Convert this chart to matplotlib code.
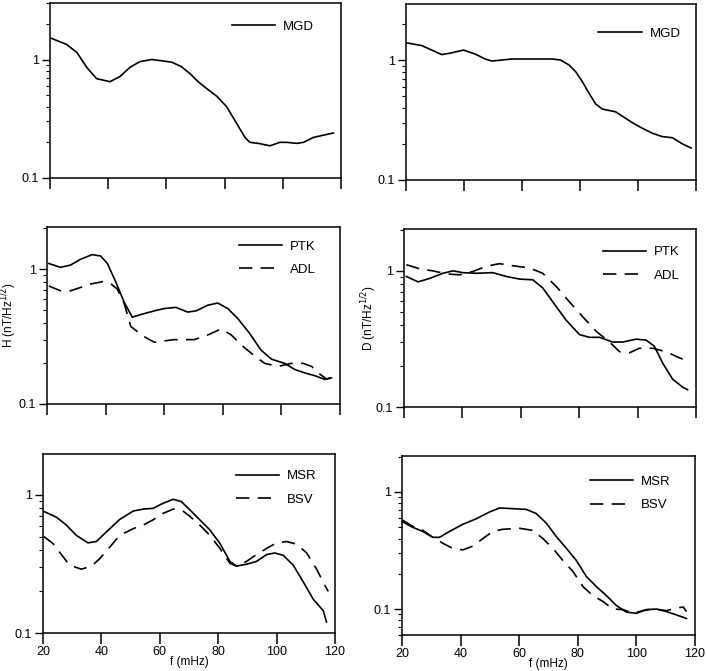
import numpy as np
import matplotlib.pyplot as plt
from matplotlib.ticker import FixedLocator, LogLocator, NullFormatter

plt.rcParams['font.family'] = ['Liberation Sans', 'DejaVu Sans']

# ---- data (f in mHz, amplitude in nT/Hz^1/2) ----
mgd_h_f = [20.2, 25.7, 29.2, 32.6, 36.0, 40.6, 44.1, 47.5, 50.9, 54.9, 57.8, 61.8, 65.2, 68.1,
           70.9, 73.8, 77.3, 80.7, 84.1, 87.0, 88.7, 91.6, 95.6, 99.0, 101.3, 104.8, 107.1,
           110.5, 114.0, 117.4]
mgd_h = [1.52, 1.34, 1.15, 0.86, 0.69, 0.65, 0.72, 0.86, 0.96, 1.0, 0.98, 0.95, 0.87, 0.76,
         0.65, 0.57, 0.49, 0.40, 0.29, 0.22, 0.20, 0.196, 0.187, 0.20, 0.20, 0.196, 0.20,
         0.22, 0.23, 0.24]

mgd_d_f = [20.2, 25.4, 28.9, 32.3, 35.2, 39.8, 43.9, 47.3, 49.6, 53.1, 56.6, 63.5, 70.4, 73.3,
           76.2, 78.5, 80.8, 83.1, 85.4, 87.7, 92.3, 94.6, 98.1, 101.5, 105.0, 108.4, 111.9,
           115.3, 118.3]
mgd_d = [1.39, 1.32, 1.21, 1.11, 1.14, 1.21, 1.12, 1.02, 0.98, 1.0, 1.02, 1.02, 1.02, 1.0,
         0.91, 0.80, 0.66, 0.53, 0.43, 0.39, 0.37, 0.34, 0.30, 0.27, 0.245, 0.23, 0.225,
         0.20, 0.185]

ptk_h_f = [20.6, 24.6, 28.0, 31.4, 35.4, 38.3, 40.6, 43.4, 46.3, 49.1, 52.0, 56.6, 60.0, 64.0,
           68.0, 70.9, 74.9, 78.3, 81.7, 85.1, 89.1, 93.1, 96.6, 101.1, 104.6, 108.0, 111.4,
           114.9, 117.1]
ptk_h = [1.10, 1.03, 1.07, 1.18, 1.28, 1.25, 1.10, 0.81, 0.57, 0.44, 0.46, 0.49, 0.51, 0.52,
         0.48, 0.49, 0.54, 0.56, 0.51, 0.43, 0.335, 0.25, 0.215, 0.20, 0.18, 0.17, 0.162,
         0.152, 0.156]
adl_h_f = [20.6, 24.6, 28.0, 31.4, 34.9, 39.4, 41.7, 44.0, 46.3, 48.6, 53.1, 56.6, 63.4, 70.3,
           74.9, 79.4, 82.9, 86.3, 90.3, 94.3, 98.9, 103.4, 107.4, 110.3, 112.6, 115.4, 117.1]
adl_h = [0.75, 0.69, 0.69, 0.73, 0.775, 0.81, 0.78, 0.71, 0.56, 0.375, 0.316, 0.287, 0.30, 0.30,
         0.325, 0.36, 0.325, 0.274, 0.232, 0.20, 0.19, 0.20, 0.20, 0.19, 0.17, 0.153, 0.158]

ptk_d_f = [20.8, 24.8, 28.8, 33.3, 36.8, 40.2, 44.7, 50.4, 55.0, 59.6, 64.1, 67.5, 71.0, 75.5,
           80.1, 83.5, 86.9, 91.5, 94.9, 99.5, 102.9, 105.7, 108.6, 112.0, 115.4, 117.1]
ptk_d = [0.91, 0.83, 0.88, 0.96, 1.0, 0.97, 0.96, 0.97, 0.91, 0.87, 0.86, 0.75, 0.59, 0.435,
         0.34, 0.325, 0.325, 0.30, 0.30, 0.315, 0.31, 0.28, 0.21, 0.16, 0.14, 0.134]
adl_d_f = [20.8, 25.4, 29.9, 34.5, 39.0, 43.6, 48.2, 52.7, 57.3, 63.0, 67.5, 72.1, 76.7, 81.2,
           85.8, 90.4, 93.8, 97.2, 100.6, 105.2, 109.7, 114.3, 117.7]
adl_d = [1.11, 1.035, 1.0, 0.95, 0.935, 0.99, 1.08, 1.13, 1.09, 1.05, 0.96, 0.77, 0.59, 0.46,
         0.36, 0.30, 0.255, 0.25, 0.27, 0.27, 0.255, 0.23, 0.215]

msr_h_f = [20.3, 24.6, 28.0, 31.4, 35.4, 38.3, 41.7, 46.3, 50.9, 54.3, 57.7, 61.1, 64.6, 67.4,
           70.3, 73.7, 77.1, 80.6, 84.0, 86.3, 89.7, 93.1, 96.6, 99.4, 102.3, 105.7, 109.1,
           112.6, 116.0, 117.1]
msr_h = [0.76, 0.69, 0.605, 0.51, 0.45, 0.46, 0.54, 0.665, 0.765, 0.79, 0.80, 0.87, 0.93, 0.895,
         0.78, 0.66, 0.56, 0.445, 0.33, 0.305, 0.315, 0.33, 0.37, 0.38, 0.365, 0.31, 0.235,
         0.175, 0.145, 0.12]
bsv_h_f = [20.3, 23.4, 26.3, 29.1, 33.1, 36.6, 39.4, 42.9, 46.3, 50.9, 54.3, 57.7, 61.1, 64.6,
           67.4, 70.3, 73.7, 77.1, 80.6, 84.0, 86.3, 89.7, 93.1, 96.6, 100.0, 103.4, 106.9,
           110.3, 113.7, 116.6, 117.7]
bsv_h = [0.50, 0.445, 0.37, 0.31, 0.29, 0.305, 0.345, 0.42, 0.51, 0.57, 0.605, 0.66, 0.735, 0.79,
         0.78, 0.70, 0.605, 0.51, 0.41, 0.32, 0.305, 0.33, 0.37, 0.41, 0.45, 0.46, 0.44,
         0.38, 0.29, 0.22, 0.20]

msr_d_f = [20.2, 23.6, 27.1, 30.5, 32.8, 36.2, 40.8, 45.3, 49.9, 53.3, 57.9, 62.4, 65.8, 69.3,
           72.7, 76.1, 79.5, 82.9, 86.4, 89.8, 93.2, 96.6, 100.0, 103.5, 106.9, 110.3, 113.7,
           117.1]
msr_d = [0.556, 0.50, 0.46, 0.41, 0.41, 0.46, 0.53, 0.59, 0.675, 0.73, 0.72, 0.71, 0.655, 0.54,
         0.415, 0.33, 0.26, 0.19, 0.155, 0.13, 0.107, 0.094, 0.092, 0.099, 0.10, 0.095, 0.089,
         0.083]
bsv_d_f = [20.2, 23.6, 27.1, 30.5, 33.9, 37.3, 40.8, 44.2, 47.6, 51.0, 54.4, 60.1, 64.6, 68.1,
           71.5, 74.9, 78.3, 81.8, 85.2, 88.6, 92.0, 95.4, 98.9, 102.3, 105.7, 110.3, 113.7,
           116.0, 117.1]
bsv_d = [0.575, 0.51, 0.47, 0.41, 0.365, 0.33, 0.32, 0.345, 0.40, 0.46, 0.48, 0.49, 0.47, 0.40,
         0.33, 0.26, 0.21, 0.155, 0.13, 0.116, 0.10, 0.099, 0.092, 0.097, 0.10, 0.097, 0.102,
         0.104, 0.095]

xticks = [20, 40, 60, 80, 100, 120]

W, H = 706, 671
fig = plt.figure(figsize=(W / 100, H / 100), dpi=100)


def make_ax(l, r, t, b, ylim):
    ax = fig.add_axes([l / W, 1 - b / H, (r - l) / W, (b - t) / H])
    ax.set_yscale('log')
    ax.set_xlim(20, 120)
    ax.set_ylim(*ylim)
    ax.xaxis.set_major_locator(FixedLocator(xticks))
    ax.yaxis.set_major_locator(FixedLocator([0.1, 1]))
    ax.yaxis.set_major_formatter(plt.FixedFormatter(['0.1', '1']))
    ax.yaxis.set_minor_locator(LogLocator(base=10, subs=np.arange(2, 10)))
    ax.yaxis.set_minor_formatter(NullFormatter())
    ax.tick_params(axis='x', which='major', direction='out', length=8, width=1.1,
                   labelsize=9, pad=1.5)
    ax.tick_params(axis='y', which='major', direction='out', length=6, width=1.0,
                   labelsize=9, pad=2)
    ax.tick_params(axis='y', which='minor', direction='out', length=3, width=0.8)
    for s in ax.spines.values():
        s.set_linewidth(1.1)
    return ax


def legend(ax, x0, y0):
    ax.legend(loc='upper left', bbox_to_anchor=(x0, y0), frameon=False, fontsize=9.5,
              handlelength=3.3, handletextpad=0.6, borderpad=0, borderaxespad=0,
              labelspacing=0.85)


dash = (0, (8, 5))
lw = 1.2
kw = dict(lw=lw, solid_joinstyle='round', dash_joinstyle='round')

ax1 = make_ax(50, 341, 3, 178, (0.1, 3.0))
ax1.plot(mgd_h_f, mgd_h, 'k-', label='MGD', **kw)
ax1.tick_params(labelbottom=False)
legend(ax1, 0.625, 0.90)

ax2 = make_ax(406, 696, 4, 180, (0.1, 2.93))
ax2.plot(mgd_d_f, mgd_d, 'k-', label='MGD', **kw)
ax2.tick_params(labelbottom=False)
legend(ax2, 0.662, 0.865)

ax3 = make_ax(47, 340, 227, 404, (0.1, 2.05))
ax3.plot(ptk_h_f, ptk_h, 'k-', label='PTK', **kw)
ax3.plot(adl_h_f, adl_h, 'k', ls=dash, label='ADL', **kw)
ax3.tick_params(labelbottom=False)
ax3.set_ylabel('H (nT/Hz$^{1/2}$)', fontsize=8.5, va='center')
ax3.yaxis.set_label_coords(-0.128, 0.5)
legend(ax3, 0.655, 0.925)

ax4 = make_ax(404, 696, 229, 407, (0.1, 2.03))
ax4.plot(ptk_d_f, ptk_d, 'k-', label='PTK', **kw)
ax4.plot(adl_d_f, adl_d, 'k', ls=dash, label='ADL', **kw)
ax4.tick_params(labelbottom=False)
ax4.set_ylabel('D (nT/Hz$^{1/2}$)', fontsize=8.5, va='center')
ax4.yaxis.set_label_coords(-0.12, 0.5)
legend(ax4, 0.68, 0.905)

ax5 = make_ax(43, 335, 454, 633, (0.1, 1.98))
ax5.plot(msr_h_f, msr_h, 'k-', label='MSR', **kw)
ax5.plot(bsv_h_f, bsv_h, 'k', ls=dash, label='BSV', **kw)
ax5.set_xticklabels([str(t) for t in xticks])
ax5.set_xlabel('f (mHz)', fontsize=8.5, labelpad=-1.5)
legend(ax5, 0.66, 0.91)

ax6 = make_ax(402, 695, 456, 635, (0.06, 2.03))
ax6.plot(msr_d_f, msr_d, 'k-', label='MSR', **kw)
ax6.plot(bsv_d_f, bsv_d, 'k', ls=dash, label='BSV', **kw)
ax6.set_xticklabels([str(t) for t in xticks])
ax6.set_xlabel('f (mHz)', fontsize=8.5, labelpad=-1.5)
legend(ax6, 0.64, 0.89)

fig.savefig('out.png', dpi=100)
